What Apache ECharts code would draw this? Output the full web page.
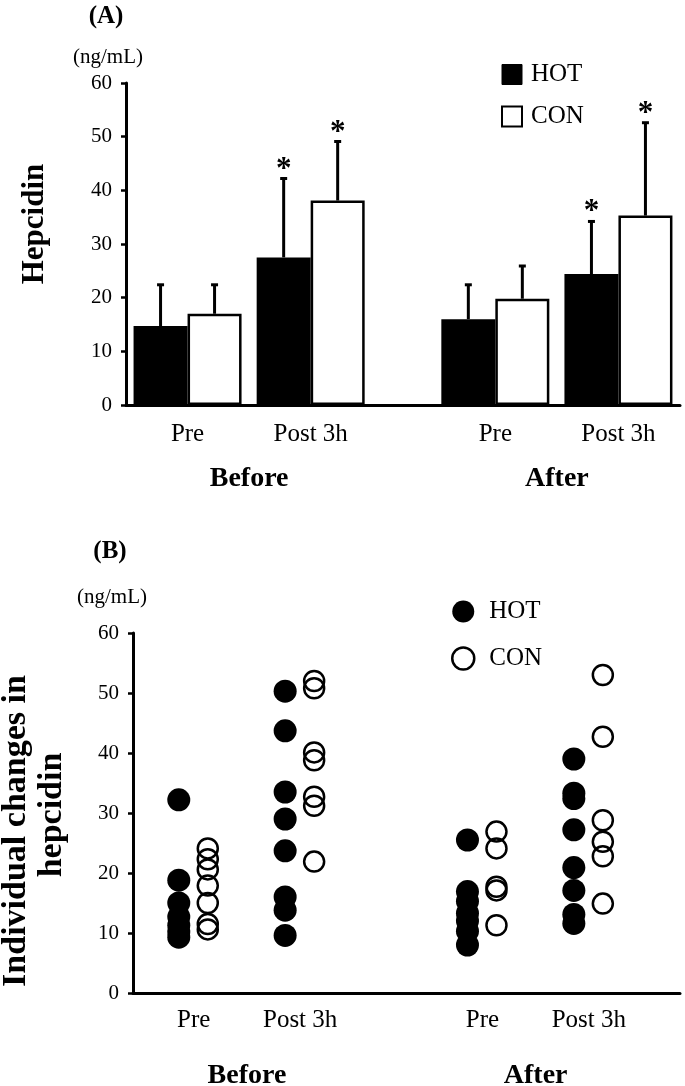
<!DOCTYPE html>
<html lang="en">
<head>
<meta charset="UTF-8">
<title>Hepcidin</title>
<script src="https://cdn.jsdelivr.net/npm/echarts@6/dist/echarts.min.js"></script>
<style>
    html, body { margin: 0; padding: 0; background: #fff; }
    #chart { width: 685px; height: 1086px; }
</style>
</head>
<body>
<div id="chart"></div>
<script>
    // values (ng/mL)
    var periods = ['Before', 'After'];
    var times = ['Pre', 'Post 3h'];
    var hotMean = [14.7, 27.5, 16.0, 24.4];
    var hotSD = [7.7, 14.7, 6.4, 9.8];
    var conMean = [17.0, 38.1, 19.8, 35.3];
    var conSD = [5.4, 11.0, 6.1, 17.3];
    var hotSig = [0, 1, 0, 1];
    var conSig = [0, 1, 0, 1];

    var hotIndiv = [
        [32.2, 18.8, 15.0, 12.7, 11.3, 10.2, 9.3],
        [50.3, 43.7, 33.5, 29.0, 23.7, 16.0, 13.8, 9.6],
        [25.5, 16.9, 15.3, 13.3, 12.0, 10.3, 8.0],
        [39.0, 33.3, 32.4, 27.2, 20.9, 17.1, 13.1, 11.6]
    ];
    var conIndiv = [
        [24.1, 22.3, 20.6, 17.9, 15.0, 11.5, 10.6],
        [52.0, 50.8, 40.1, 38.8, 32.7, 31.2, 21.9],
        [26.9, 24.1, 17.7, 17.1, 11.3],
        [53.0, 42.7, 28.8, 25.2, 22.8, 14.9]
    ];

    var FONT = '"Liberation Serif", "Times New Roman", serif';

    // slot layout along the x axes (groups sit apart)
    var posA = [1, 3, 6, 8], groupA = [2, 7], nSlotA = 10;
    var posB = [4, 11, 23, 30], groupB = [7.5, 26.5];

    var catsA = [];
    for (var i = 0; i < nSlotA; i++) catsA.push(String(i));

    function slotData(vals) {
        var d = catsA.map(function () { return '-'; });
        posA.forEach(function (s, k) { d[s] = vals[k]; });
        return d;
    }
    function errData(mean, sd, sig) {
        return mean.map(function (m, k) { return [posA[k], m, m + sd[k], sig[k]]; });
    }
    function pointData(groups) {
        var out = [];
        groups.forEach(function (arr, g) {
            arr.forEach(function (v) { out.push([posB[g], v]); });
        });
        return out;
    }
    function near(list, v) {
        for (var k = 0; k < list.length; k++) if (Math.abs(list[k] - v) < 1e-6) return k;
        return -1;
    }

    function errRender(offset) {
        return function (params, api) {
            var base = api.coord([api.value(0), api.value(1)]);
            var top = api.coord([api.value(0), api.value(2)]);
            var x = base[0] + offset;
            var kids = [
                {type: 'line', shape: {x1: x, y1: base[1], x2: x, y2: top[1]}, style: {stroke: '#000', lineWidth: 3}},
                {type: 'line', shape: {x1: x - 3.5, y1: top[1], x2: x + 3.5, y2: top[1]}, style: {stroke: '#000', lineWidth: 3}}
            ];
            if (api.value(3)) {
                kids.push({type: 'text', x: x, y: top[1] - 9,
                    style: {text: '*', font: 'bold 31px ' + FONT, fill: '#000', align: 'center', verticalAlign: 'middle'}});
            }
            return {type: 'group', children: kids};
        };
    }

    var axisBlack = {show: true, onZero: false, lineStyle: {color: '#000', width: 3}};
    var yLabel = {margin: 14, fontSize: 21, fontFamily: FONT, color: '#000'};
    var yTick = {show: true, length: 5, lineStyle: {color: '#000', width: 2.5}};

    var myChart = echarts.init(document.getElementById('chart'));
    var option = {
        backgroundColor: '#fff',
        animation: false,
        grid: [
            {left: 126, top: 83, width: 554, height: 322, outerBoundsMode: 'none'},
            {left: 133, top: 633, width: 547, height: 360, outerBoundsMode: 'none'}
        ],
        legend: [
            {
                left: 496, top: 57, orient: 'vertical', itemWidth: 20, itemHeight: 20, itemGap: 17,
                selectedMode: false,
                textStyle: {fontSize: 25, fontFamily: FONT, color: '#000', padding: [0, 0, 0, 4]},
                data: [
                    {name: 'HOT', icon: 'rect', itemStyle: {color: '#000', borderColor: '#000', borderWidth: 1}},
                    {name: 'CON', icon: 'rect', itemStyle: {color: '#fff', borderColor: '#000', borderWidth: 2}}
                ]
            },
            {
                left: 446, top: 594, orient: 'vertical', itemWidth: 22, itemHeight: 22, itemGap: 22,
                selectedMode: false,
                textStyle: {fontSize: 25, fontFamily: FONT, color: '#000', padding: [0, 0, 0, 10]},
                data: [
                    {name: 'HOT', icon: 'circle', itemStyle: {color: '#000', borderWidth: 0}},
                    {name: 'CON', icon: 'circle', itemStyle: {color: '#fff', borderColor: '#000', borderWidth: 2.5}}
                ]
            }
        ],
        xAxis: [
            {
                type: 'category', gridIndex: 0, data: catsA, boundaryGap: false,
                axisLine: axisBlack, axisTick: {show: false}, splitLine: {show: false},
                axisLabel: {interval: 0, margin: 17, fontSize: 25, fontFamily: FONT, color: '#000',
                    formatter: function (v, idx) { var k = posA.indexOf(idx); return k < 0 ? '' : times[k % 2]; }}
            },
            {
                type: 'category', gridIndex: 0, data: catsA, boundaryGap: false, position: 'bottom',
                axisLine: {show: false}, axisTick: {show: false}, splitLine: {show: false},
                axisLabel: {interval: 0, margin: 60, fontSize: 28, fontWeight: 'bold', fontFamily: FONT, color: '#000',
                    formatter: function (v, idx) { var k = groupA.indexOf(idx); return k < 0 ? '' : periods[k]; }}
            },
            {
                type: 'value', gridIndex: 1, min: 0, max: 36, interval: 0.5,
                axisLine: axisBlack, axisTick: {show: false}, splitLine: {show: false},
                axisLabel: {margin: 15, fontSize: 25, fontFamily: FONT, color: '#000',
                    formatter: function (v) { var k = near(posB, v); return k < 0 ? '' : times[k % 2]; }}
            },
            {
                type: 'value', gridIndex: 1, min: 0, max: 36, interval: 0.5, position: 'bottom',
                axisLine: {show: false}, axisTick: {show: false}, splitLine: {show: false},
                axisLabel: {margin: 69, fontSize: 28, fontWeight: 'bold', fontFamily: FONT, color: '#000',
                    formatter: function (v) { var k = near(groupB, v); return k < 0 ? '' : periods[k]; }}
            }
        ],
        yAxis: [
            {type: 'value', gridIndex: 0, min: 0, max: 60, interval: 10,
                axisLine: axisBlack, axisTick: yTick, axisLabel: yLabel, splitLine: {show: false}},
            {type: 'value', gridIndex: 1, min: 0, max: 60, interval: 10,
                axisLine: axisBlack, axisTick: yTick, axisLabel: yLabel, splitLine: {show: false}}
        ],
        graphic: [
            {type: 'text', x: 106, y: 17, style: {text: '(A)', font: 'bold 25px ' + FONT, fill: '#000', align: 'center', verticalAlign: 'middle'}},
            {type: 'text', x: 108, y: 57, style: {text: '(ng/mL)', font: '21px ' + FONT, fill: '#000', align: 'center', verticalAlign: 'middle'}},
            {type: 'text', x: 35, y: 224, rotation: Math.PI / 2,
                style: {text: 'Hepcidin', font: 'bold 31px ' + FONT, fill: '#000', align: 'center', verticalAlign: 'middle'}},
            {type: 'text', x: 110, y: 552, style: {text: '(B)', font: 'bold 25px ' + FONT, fill: '#000', align: 'center', verticalAlign: 'middle'}},
            {type: 'text', x: 112, y: 597, style: {text: '(ng/mL)', font: '21px ' + FONT, fill: '#000', align: 'center', verticalAlign: 'middle'}},
            {type: 'text', x: 16, y: 831, rotation: Math.PI / 2,
                style: {text: 'Individual changes in', font: 'bold 34px ' + FONT, fill: '#000', align: 'center', verticalAlign: 'middle'}},
            {type: 'text', x: 52, y: 815, rotation: Math.PI / 2,
                style: {text: 'hepcidin', font: 'bold 34px ' + FONT, fill: '#000', align: 'center', verticalAlign: 'middle'}}
        ],
        series: [
            {name: 'HOT', type: 'bar', xAxisIndex: 0, yAxisIndex: 0, data: slotData(hotMean),
                barWidth: 54, barGap: '0%', itemStyle: {color: '#000', borderColor: '#000', borderWidth: 2.5}},
            {name: 'CON', type: 'bar', xAxisIndex: 0, yAxisIndex: 0, data: slotData(conMean),
                barWidth: 54, barGap: '0%', itemStyle: {color: '#fff', borderColor: '#000', borderWidth: 2.5}},
            {type: 'custom', xAxisIndex: 0, yAxisIndex: 0, z: 5, renderItem: errRender(-27),
                encode: {x: 0, y: [1, 2]}, data: errData(hotMean, hotSD, hotSig)},
            {type: 'custom', xAxisIndex: 0, yAxisIndex: 0, z: 5, renderItem: errRender(27),
                encode: {x: 0, y: [1, 2]}, data: errData(conMean, conSD, conSig)},
            {name: 'HOT', type: 'scatter', xAxisIndex: 2, yAxisIndex: 1, symbol: 'circle', symbolSize: 23,
                symbolOffset: [-15, 0], itemStyle: {color: '#000', opacity: 1}, data: pointData(hotIndiv)},
            {name: 'CON', type: 'scatter', xAxisIndex: 2, yAxisIndex: 1, symbol: 'circle', symbolSize: 20,
                symbolOffset: [14, 0], itemStyle: {color: 'rgba(255,255,255,0)', borderColor: '#000', borderWidth: 2.5, opacity: 1},
                data: pointData(conIndiv)}
        ]
    };
    myChart.setOption(option);
</script>
</body>
</html>
